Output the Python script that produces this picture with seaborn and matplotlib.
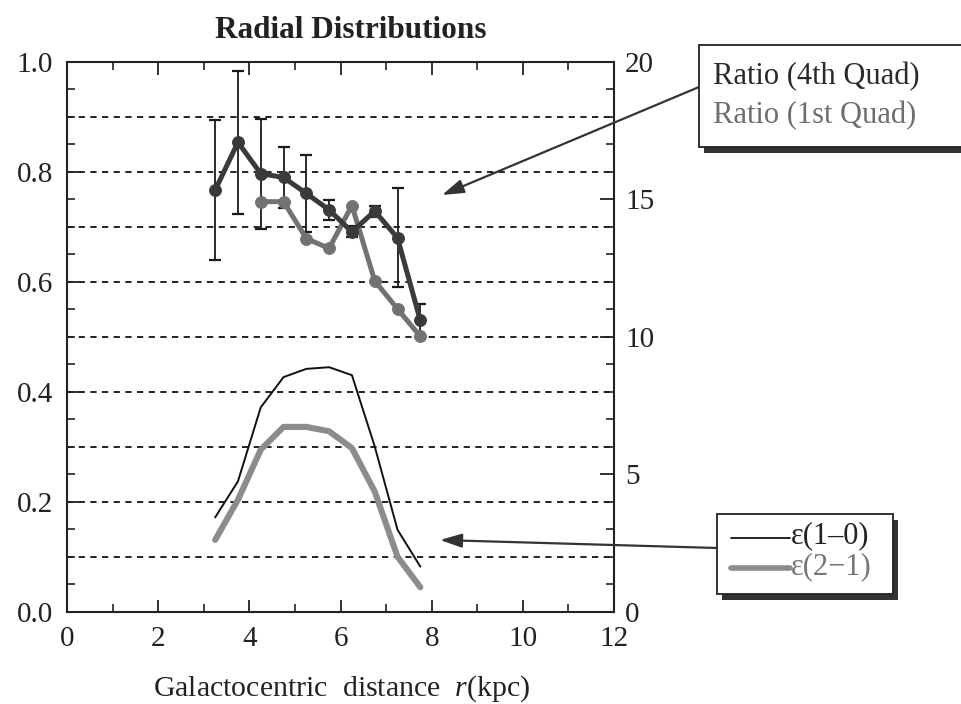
import matplotlib
matplotlib.use("Agg")
import matplotlib.pyplot as plt
import seaborn as sns
import pandas as pd
from matplotlib.patches import Rectangle
from matplotlib.lines import Line2D
from matplotlib.ticker import MultipleLocator, FormatStrFormatter

# ---------------- data ----------------
r_kpc = [3.25, 3.75, 4.25, 4.75, 5.25, 5.75, 6.25, 6.75, 7.25, 7.75]
ratio_4th = [0.767, 0.854, 0.797, 0.790, 0.761, 0.731, 0.691, 0.729, 0.680, 0.530]
ratio_4th_err = [0.127, 0.130, 0.100, 0.055, 0.070, 0.018, 0.010, 0.010, 0.090, 0.030]
r_1st = [4.25, 4.75, 5.25, 5.75, 6.25, 6.75, 7.25, 7.75]
ratio_1st = [0.746, 0.746, 0.679, 0.661, 0.739, 0.602, 0.551, 0.501]
eps_10 = [3.44, 4.75, 7.44, 8.54, 8.84, 8.90, 8.61, 6.02, 2.99, 1.65]
eps_21 = [2.62, 4.08, 5.90, 6.73, 6.73, 6.57, 5.96, 4.38, 2.01, 0.90]

title = "Radial Distributions"
xlabel = "Galactocentric  distance  $\\mathit{r}$(kpc)"
legend1 = ["Ratio (4th Quad)", "Ratio (1st Quad)"]
legend2 = ["\u03b5(1\u20130)", "\u03b5(2\u22121)"]

df4 = pd.DataFrame({"r": r_kpc, "ratio": ratio_4th})
df1 = pd.DataFrame({"r": r_1st, "ratio": ratio_1st})
dfe = pd.DataFrame({"r": r_kpc, "e10": eps_10, "e21": eps_21})

sns.set_theme(style="white")
plt.rcParams["font.family"] = ["Liberation Serif", "DejaVu Serif"]
plt.rcParams["mathtext.fontset"] = "custom"
plt.rcParams["mathtext.it"] = "Liberation Serif:italic"
plt.rcParams["mathtext.rm"] = "Liberation Serif"

DARK = "#3a3a3a"
GRAY = "#727272"
LGRAY = "#8c8c8c"
INK = "#222222"

fig = plt.figure(figsize=(9.61, 7.04), dpi=100)
ax = fig.add_axes([0.0697, 0.1307, 0.5693, 0.7813])

# dashed horizontal lines
for v in [0.1, 0.2, 0.3, 0.4, 0.5, 0.6, 0.7, 0.8, 0.9]:
    ax.axhline(v, color=INK, lw=1.4, ls=(0, (3.2, 2.8)), zorder=1)

# error bars
ax.errorbar(r_kpc, ratio_4th, yerr=ratio_4th_err, fmt="none", ecolor="#1a1a1a",
            elinewidth=1.3, capsize=4.5, capthick=1.6, zorder=2)

sns.lineplot(data=df1, x="r", y="ratio", ax=ax, color=GRAY, lw=3.6, marker="o",
             markersize=8.5, markeredgecolor=GRAY, zorder=3)
sns.lineplot(data=df4, x="r", y="ratio", ax=ax, color=DARK, lw=3.6, marker="o",
             markersize=8.5, markeredgecolor=DARK, zorder=4)

ax.set_xlim(0, 12)
ax.set_ylim(0, 1.0)
ax.set_xlabel("")
ax.set_ylabel("")
ax.xaxis.set_major_locator(MultipleLocator(2))
ax.xaxis.set_minor_locator(MultipleLocator(1))
ax.yaxis.set_major_locator(MultipleLocator(0.2))
ax.yaxis.set_minor_locator(MultipleLocator(0.05))
ax.yaxis.set_major_formatter(FormatStrFormatter("%.1f"))
ax.tick_params(axis="both", which="major", direction="in", length=9, width=1.3,
               labelsize=21, colors=INK, top=True, left=True, bottom=True)
ax.tick_params(axis="both", which="minor", direction="in", length=6, width=1.2,
               top=True, left=True, bottom=True, colors=INK)
ax.tick_params(axis="x", which="major", pad=10)
ax.tick_params(axis="y", which="major", pad=10)
for s in ax.spines.values():
    s.set_color(INK)
    s.set_linewidth(1.5)

ax2 = ax.twinx()
sns.lineplot(data=dfe, x="r", y="e21", ax=ax2, color=LGRAY, lw=4.4, zorder=3)
sns.lineplot(data=dfe, x="r", y="e10", ax=ax2, color="#111111", lw=1.4, zorder=4)
ax2.set_ylim(0, 20)
ax2.set_ylabel("")
ax2.yaxis.set_major_locator(MultipleLocator(5))
ax2.yaxis.set_minor_locator(MultipleLocator(1))
ax2.tick_params(axis="y", which="major", direction="in", length=10, width=1.3,
                labelsize=21, colors=INK, pad=8)
ax2.tick_params(axis="y", which="minor", direction="in", length=6, width=1.2,
                colors=INK)
for s in ax2.spines.values():
    s.set_visible(False)

fig.text(0.365, 0.957, title, ha="center", va="center", fontsize=22.5,
         fontweight="bold", color=INK)
fig.text(0.356, 0.0, xlabel, ha="center", va="bottom", fontsize=21.5,
         color=INK)

W, H = 961.0, 704.0
def px_rect(x0, y0, x1, y1, **kw):
    return Rectangle((x0 / W, 1 - y1 / H), (x1 - x0) / W, (y1 - y0) / H,
                     transform=fig.transFigure, **kw)

# legend box 1 (with shadow)
fig.patches.append(px_rect(704, 52, 966, 153, facecolor="#333333", edgecolor="none", zorder=5))
fig.patches.append(px_rect(699, 45, 962, 147, facecolor="white", edgecolor=INK, lw=1.3, zorder=6))
fig.text(713 / W, 1 - 77 / H, legend1[0], fontsize=22, color="#2a2a2a", va="center", zorder=7)
fig.text(713 / W, 1 - 116 / H, legend1[1], fontsize=22, color="#6e6e6e", va="center", zorder=7)

# legend box 2 (with shadow)
fig.patches.append(px_rect(722, 520, 898, 600, facecolor="#333333", edgecolor="none", zorder=5))
fig.patches.append(px_rect(717, 514, 893, 594, facecolor="white", edgecolor=INK, lw=1.3, zorder=6))
fig.lines.append(Line2D([731 / W, 790 / W], [1 - 538 / H, 1 - 538 / H],
                 transform=fig.transFigure, color="#111111", lw=1.3, zorder=7))
fig.lines.append(Line2D([731 / W, 790 / W], [1 - 568 / H, 1 - 568 / H],
                 transform=fig.transFigure, color=LGRAY, lw=4.0, zorder=7))
fig.text(791 / W, 1 - 536 / H, legend2[0], fontsize=22, color=INK, va="center", zorder=7)
fig.text(791 / W, 1 - 567 / H, legend2[1], fontsize=22, color="#777777", va="center", zorder=7)

# arrows
ax.annotate("", xy=(442 / W, 1 - 195 / H), xycoords="figure fraction",
            xytext=(699 / W, 1 - 87 / H), textcoords="figure fraction",
            arrowprops=dict(arrowstyle="-|>,head_length=1.1,head_width=0.35",
                            color="#333333", lw=1.6, shrinkA=0, shrinkB=0),
            annotation_clip=False, zorder=8)
ax.annotate("", xy=(440 / W, 1 - 540 / H), xycoords="figure fraction",
            xytext=(717 / W, 1 - 548 / H), textcoords="figure fraction",
            arrowprops=dict(arrowstyle="-|>,head_length=1.1,head_width=0.35",
                            color="#333333", lw=1.6, shrinkA=0, shrinkB=0),
            annotation_clip=False, zorder=8)

fig.savefig("out.png", dpi=100, facecolor="white")
